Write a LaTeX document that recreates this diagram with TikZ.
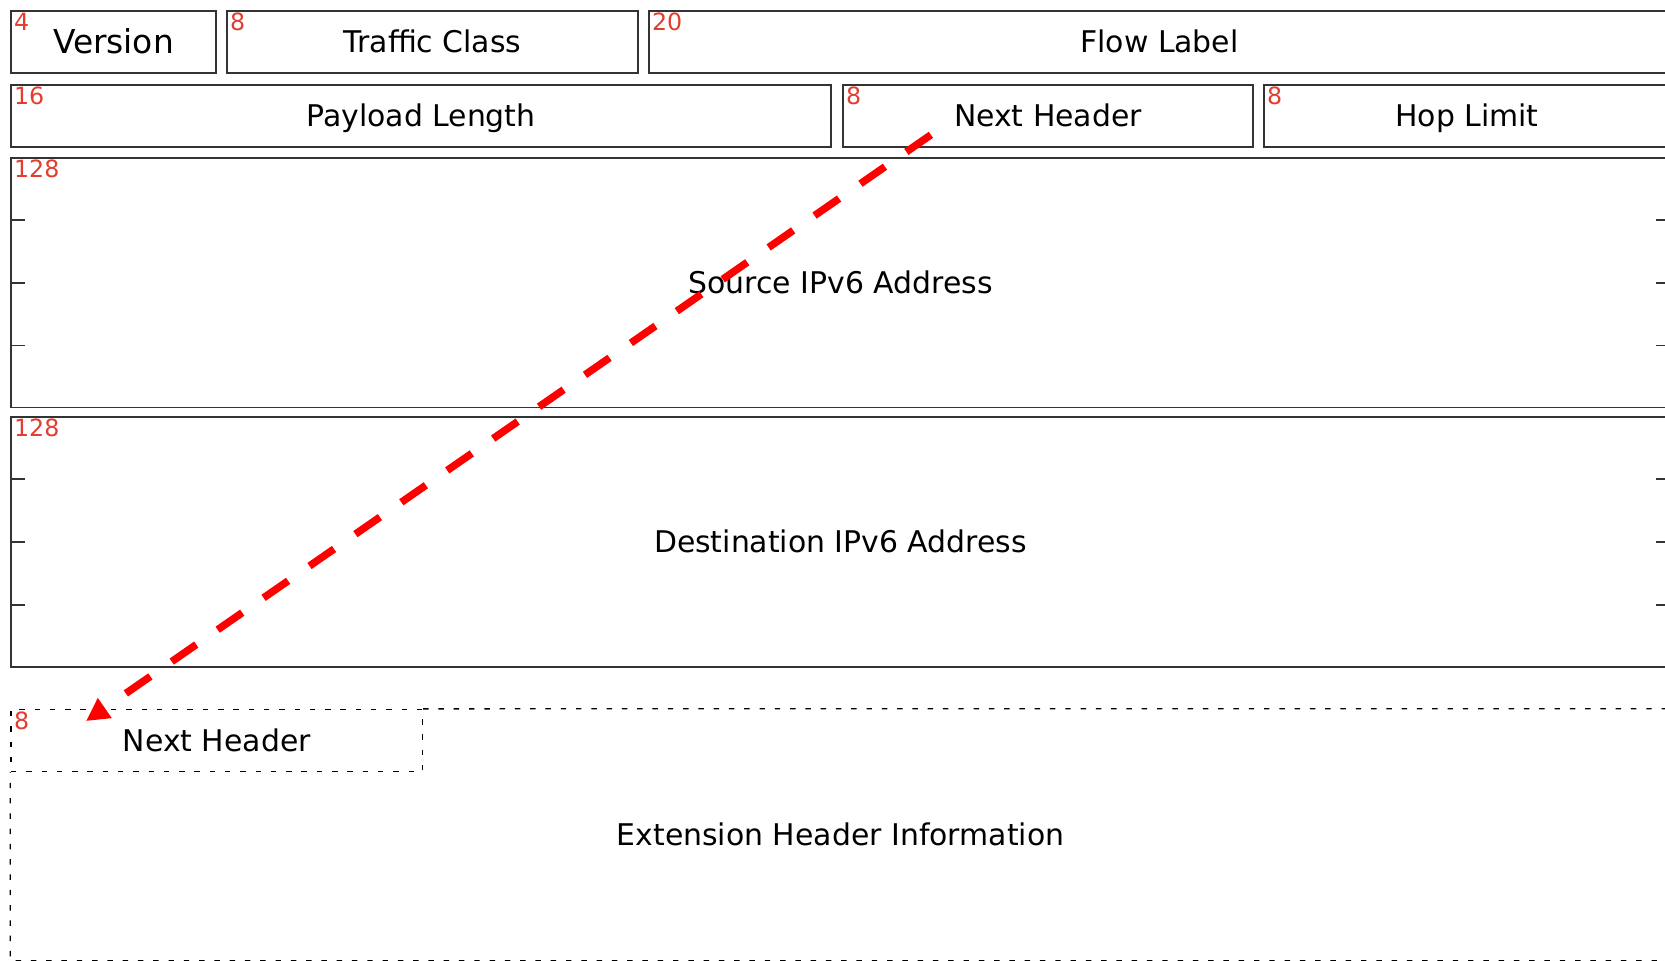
\documentclass[tikz,border=0pt]{standalone}
\usepackage{fontspec}
\setmainfont{DejaVu Sans}
\usetikzlibrary{arrows.meta, calc}
\definecolor{bitred}{HTML}{E23D2E}
\definecolor{flowred}{HTML}{FF0000}
\definecolor{edgegray}{HTML}{333333}

\begin{document}
\begin{tikzpicture}[
    field/.style={draw=edgegray, line width=0.9pt, minimum height=1.23cm, inner sep=0pt,
      text height=12.4pt, text depth=0pt, font=\fontsize{17}{20}\selectfont},
    extline/.style={draw=black, line width=0.75pt, dash pattern=on 3.1pt off 5.6pt},
    bits/.style={anchor=north west, inner xsep=2pt, inner ysep=1.3pt, text=bitred,
      font=\fontsize{13.5}{15}\selectfont},
    tickmark/.style={draw=edgegray, line width=0.9pt},
    nexthop/.style={-{Triangle[length=13pt, width=13pt]}, draw=flowred,
      line width=4.25pt, dash pattern=on 17pt off 14.8pt},
]

% Canvas
\path[use as bounding box, clip] (0,0) rectangle (33.3,-19.22);

% Row 1: version, traffic class, flow label
\node[field, minimum width=4.10cm, text height=13.6pt, font=\fontsize{18.7}{22}\selectfont] (ver) at (2.27,-0.84) {Version};
\node[field, minimum width=8.22cm] (tc) at (8.65,-0.84) {Traffic Class};
\node[field, minimum width=20.42cm] (fl) at (23.19,-0.84) {Flow Label};

% Row 2: payload length, next header, hop limit
\node[field, minimum width=16.40cm] (pl) at (8.42,-2.32) {Payload Length};
\node[field, minimum width=8.20cm] (nh) at (20.96,-2.32) {Next Header};
\node[field, minimum width=8.12cm] (hl) at (29.34,-2.32) {Hop Limit};

% Addresses (128 bits each)
\node[field, minimum width=33.18cm, minimum height=4.99cm] (src) at (16.81,-5.655) {Source IPv6 Address};
\node[field, minimum width=33.18cm, minimum height=5cm] (dst) at (16.81,-10.84) {Destination IPv6 Address};
\foreach \f in {src, dst} {
    \foreach \q in {0.25, 0.5, 0.75} {
        \draw[tickmark] ($(\f.north west)!\q!(\f.south west)$) -- ++(0.3,0);
        \draw[tickmark] ($(\f.north east)!\q!(\f.south east)$) -- ++(-0.3,0);
    }
}

% Extension header (dashed)
\node[field, draw=none, minimum width=33.18cm, minimum height=5.01cm] (ext) at (16.81,-16.695) {Extension Header Information};
\node[field, extline, minimum width=8.23cm, minimum height=1.244cm] (nh2) at (4.335,-14.812) {Next Header};
\draw[extline] (nh2.north east) -- (ext.north east) -- (ext.south east) -- (ext.south west) -- (nh2.south west);

% Field sizes in bits
\foreach \f/\n in {ver/4, tc/8, fl/20, pl/16, nh/8, hl/8, src/128, dst/128, nh2/8}
    \node[bits] at (\f.north west) {\n};

% Next header points to the extension header
\coordinate (from) at ([shift={(1.774,0.254)}]nh.south west);
\coordinate (to) at ([shift={(1.514,-0.244)}]nh2.north west);
\draw[nexthop] (from) -- (to);

\end{tikzpicture}
\end{document}
